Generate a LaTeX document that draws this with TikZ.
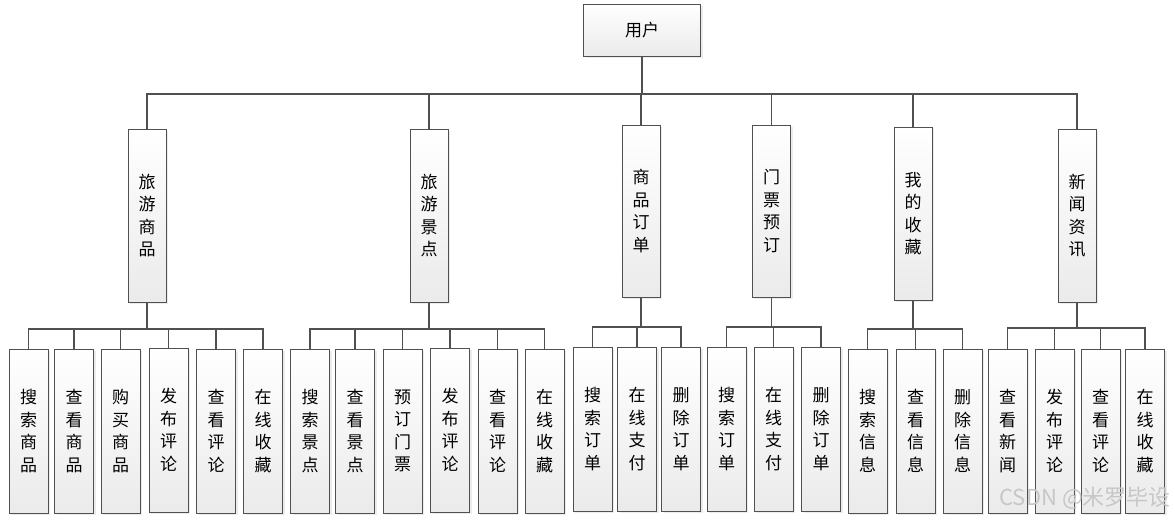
\documentclass[tikz,border=0pt]{standalone}
\usepackage{fontspec}
\newfontfamily\cjk{Noto Sans CJK SC}
\usetikzlibrary{shadows}
\definecolor{edge}{HTML}{505050}
\tikzset{
  box/.style={draw=edge, line width=1.0pt, top color=white, bottom color=black!8,
    drop shadow={shadow xshift=2.2pt, shadow yshift=-2.2pt, fill=black!14},
    inner sep=0pt, align=center, font=\cjk\fontsize{17}{22.5}\selectfont, text=black},
  leaf/.style={box, minimum width=39pt, minimum height=164pt},
  mid/.style={box, minimum width=38pt, minimum height=173pt},
  wire/.style={draw=edge, line width=1.4pt}
}
\begin{document}
\begin{tikzpicture}[x=1pt,y=-1pt]
\useasboundingbox[fill=white] (0,0) rectangle (1175,520);
% root
\node[box, minimum width=117pt, minimum height=52pt, font=\cjk\fontsize{17}{20}\selectfont] (root) at (642,30) {用户};
% level 2
\node[mid] (A) at (147,215.5) {旅\\游\\商\\品};
\node[mid] (B) at (429,215.5) {旅\\游\\景\\点};
\node[mid, minimum height=172pt] (C) at (641,211) {商\\品\\订\\单};
\node[mid, minimum height=172pt] (D) at (771.5,211) {门\\票\\预\\订};
\node[mid] (E) at (913,213.5) {我\\的\\收\\藏};
\node[mid] (F) at (1077,215.5) {新\\闻\\资\\讯};
% level 3 group A
\node[leaf] (A1) at (28.5,431) {搜\\索\\商\\品};
\node[leaf] (A2) at (74,431) {查\\看\\商\\品};
\node[leaf] (A3) at (120.5,431) {购\\买\\商\\品};
\node[leaf] (A4) at (168.5,430) {发\\布\\评\\论};
\node[leaf] (A5) at (216,431) {查\\看\\评\\论};
\node[leaf] (A6) at (263,431) {在\\线\\收\\藏};
% group B
\node[leaf] (B1) at (310,431) {搜\\索\\景\\点};
\node[leaf] (B2) at (355,431) {查\\看\\景\\点};
\node[leaf] (B3) at (402.5,431) {预\\订\\门\\票};
\node[leaf] (B4) at (450,430) {发\\布\\评\\论};
\node[leaf] (B5) at (497.5,431) {查\\看\\评\\论};
\node[leaf] (B6) at (544.5,431) {在\\线\\收\\藏};
% group C
\node[leaf] (C1) at (592.5,429) {搜\\索\\订\\单};
\node[leaf] (C2) at (637,429) {在\\线\\支\\付};
\node[leaf] (C3) at (681,429) {删\\除\\订\\单};
% group D
\node[leaf] (D1) at (726.5,429) {搜\\索\\订\\单};
\node[leaf] (D2) at (773.5,429) {在\\线\\支\\付};
\node[leaf] (D3) at (821,429) {删\\除\\订\\单};
% group E
\node[leaf] (E1) at (867.5,431) {搜\\索\\信\\息};
\node[leaf] (E2) at (915.5,431) {查\\看\\信\\息};
\node[leaf] (E3) at (962.5,431) {删\\除\\信\\息};
% group F
\node[leaf] (F1) at (1007.5,431) {查\\看\\新\\闻};
\node[leaf] (F2) at (1054.5,431) {发\\布\\评\\论};
\node[leaf] (F3) at (1100.5,431) {查\\看\\评\\论};
\node[leaf] (F4) at (1145,431) {在\\线\\收\\藏};
% bus coordinates
\coordinate (b0) at (0,94);
\coordinate (bA) at (0,329);
\coordinate (bB) at (0,329);
\coordinate (bC) at (0,327);
\coordinate (bD) at (0,327);
\coordinate (bE) at (0,329);
\coordinate (bF) at (0,328);
% connectors
\foreach \c in {A,B,C,D,E,F}
  \draw[wire] (root.south) -- (root.south |- b0) -| (\c.north);
\foreach \c in {A1,A2,A3,A4,A5,A6}
  \draw[wire] (A.south) -- (A.south |- bA) -| (\c.north);
\foreach \c in {B1,B2,B3,B4,B5,B6}
  \draw[wire] (B.south) -- (B.south |- bB) -| (\c.north);
\foreach \c in {C1,C2,C3}
  \draw[wire] (C.south) -- (C.south |- bC) -| (\c.north);
\foreach \c in {D1,D2,D3}
  \draw[wire] (D.south) -- (D.south |- bD) -| (\c.north);
\foreach \c in {E1,E2,E3}
  \draw[wire] (E.south) -- (E.south |- bE) -| (\c.north);
\foreach \c in {F1,F2,F3,F4}
  \draw[wire] (F.south) -- (F.south |- bF) -| (\c.north);
% watermark
\node[anchor=east, text=black!22, font=\cjk\fontsize{22}{24}\selectfont, inner sep=0pt] (wm) at (1171,498) {CSDN @米罗毕设};
\end{tikzpicture}
\end{document}
